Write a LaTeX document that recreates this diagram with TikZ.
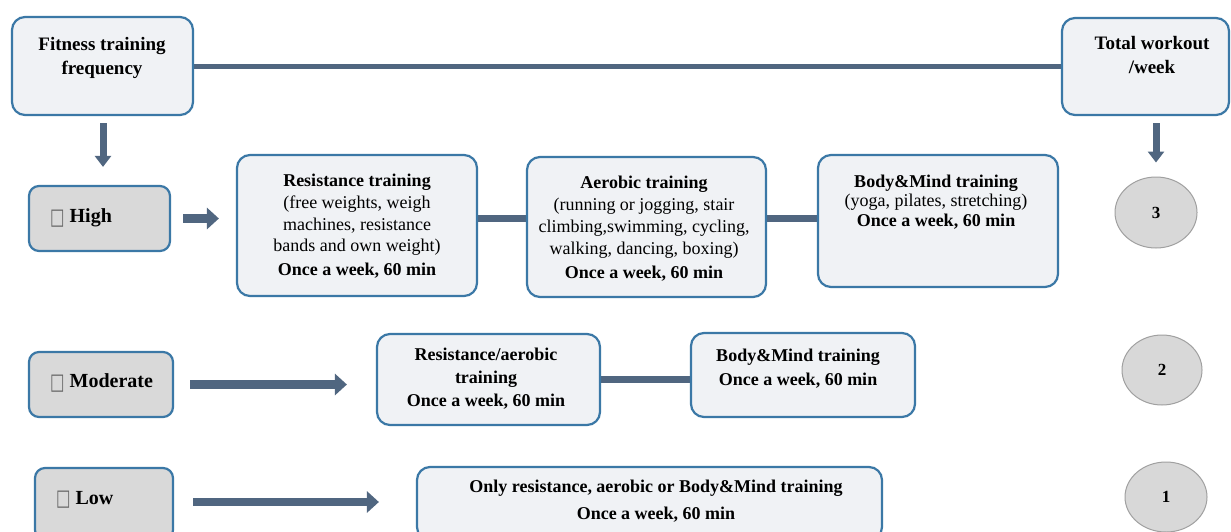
\documentclass[tikz,border=0pt]{standalone}
\usepackage{fontspec}
\setmainfont{Liberation Serif}
\newfontfamily\symfont{DejaVu Sans}
\usetikzlibrary{arrows.meta,calc,shapes.geometric}
\pgfdeclarelayer{bg}
\pgfsetlayers{bg,main}
\definecolor{boxblue}{HTML}{3B78A6}
\definecolor{boxfill}{HTML}{F0F2F5}
\definecolor{lvlfill}{HTML}{D9D9D9}
\definecolor{conn}{HTML}{506680}
\definecolor{circfill}{HTML}{D8D8D8}
\definecolor{circline}{HTML}{A0A0A0}
\newcommand{\tbox}{{\symfont\fontsize{18}{18}\selectfont\color{black!60}\raisebox{-1.5pt}{\scalebox{0.85}[1.25]{□}}}}
\tikzset{
  box/.style={draw=boxblue, line width=2.2pt, fill=boxfill, rounded corners=13pt, inner sep=0pt},
  lvl/.style={box, fill=lvlfill, rounded corners=10pt},
  circ/.style={ellipse, draw=circline, line width=1pt, fill=circfill, inner sep=0pt,
     font=\fontsize{17}{17}\selectfont\bfseries},
  link/.style={draw=conn, line width=6.5pt},
  toplink/.style={draw=conn, line width=5pt},
  arr/.style={draw=conn, line width=8.5pt, -{Triangle[width=21pt,length=12pt]}},
  darr/.style={draw=conn, line width=7pt, -{Triangle[width=16pt,length=11pt]}},
  hdr/.style={align=center, inner sep=0pt, font=\fontsize{19}{24}\selectfont\bfseries},
  lvltxt/.style={anchor=west, inner sep=0pt, font=\fontsize{20}{24}\selectfont\bfseries},
  body/.style={align=center, inner sep=0pt, font=\fontsize{18}{21.7}\selectfont},
}
\begin{document}
\begin{tikzpicture}[x=1pt,y=-1pt]
\clip (0,0) rectangle (1231,531);
\begin{pgfonlayer}{bg}
\fill[white] (0,0) rectangle (1231,531);
\end{pgfonlayer}

% header boxes
\node[box, minimum width=181pt, minimum height=98pt] (fit) at (102.5,66) {};
\node[hdr] (fitT) at (102,58) {Fitness training\\frequency};
\node[box, minimum width=167pt, minimum height=97pt] (tot) at (1145.5,66.5) {};
\node[hdr] (totT) at (1152,55) {Total workout\\/week};

% level boxes
\node[lvl, minimum width=141pt, minimum height=65pt] (high) at (99.5,218.5) {};
\node[lvltxt] (highT) at (50,218) {\tbox\ High};
\node[lvl, minimum width=144pt, minimum height=65pt] (mod) at (101,384.5) {};
\node[lvltxt] (modT) at (50,383) {\tbox\ Moderate};
\node[lvl, minimum width=138pt, minimum height=72pt] (low) at (104,504) {};
\node[lvltxt] (lowT) at (56,500) {\tbox\ Low};

% high row
\node[box, minimum width=240pt, minimum height=141pt] (res) at (357,225.5) {};
\node[body] (resT) at (357,226) {\textbf{Resistance training}\\(free weights, weigh\\machines, resistance\\bands and own weight)\\[1.5pt]\textbf{Once a week, 60 min}};
\node[box, minimum width=239pt, minimum height=140pt] (aer) at (646.5,227) {};
\node[body] (aerT) at (644,229) {\textbf{Aerobic training}\\(running or jogging, stair\\climbing,swimming, cycling,\\walking, dancing, boxing)\\[3pt]\textbf{Once a week, 60 min}};
\node[box, minimum width=240pt, minimum height=132pt] (bm) at (938,221) {};
\node[body, font=\fontsize{18}{19.5}\selectfont] (bmT) at (936,202) {\textbf{Body\&Mind training}\\(yoga, pilates, stretching)\\\textbf{Once a week, 60 min}};

% moderate row
\node[box, minimum width=223pt, minimum height=91pt] (ra) at (488.5,379.5) {};
\node[body, font=\fontsize{18}{23}\selectfont\bfseries] (raT) at (486,379) {Resistance/aerobic\\training\\Once a week, 60 min};
\node[box, minimum width=224pt, minimum height=84pt] (bm2) at (803,375) {};
\node[body, font=\fontsize{18}{24}\selectfont\bfseries] (bm2T) at (798,369) {Body\&Mind training\\Once a week, 60 min};

% low row
\node[box, minimum width=465pt, minimum height=73pt] (only) at (649.5,503.5) {};
\node[body, font=\fontsize{18}{27}\selectfont\bfseries] (onlyT) at (656,501) {Only resistance, aerobic or Body\&Mind training\\Once a week, 60 min};

% circles
\node[circ, minimum width=82pt, minimum height=71pt] (c3) at (1156,212.5) {3};
\node[circ, minimum width=80pt, minimum height=70pt] (c2) at (1162,370) {2};
\node[circ, minimum width=82pt, minimum height=70pt] (c1) at (1166,497) {1};

% connectors
\begin{pgfonlayer}{bg}
\draw[toplink] (fit.east) -- (fit.east -| tot.west);
\draw[link] (res.east |- high.east) -- (aer.west |- high.east);
\draw[link] (aer.east |- high.east) -- (bm.west |- high.east);
\draw[link] (ra.east) -- (ra.east -| bm2.west);
\end{pgfonlayer}
\draw[darr, shorten <=7pt, shorten >=18pt] ($(fit.south)+(0.5,0)$) -- ($(fit.south |- high.north)+(0.5,0)$);
\draw[darr, shorten <=7pt, shorten >=14pt] (c3.north |- tot.south) -- (c3.north);
\draw[arr, shorten <=12pt, shorten >=17pt] (high.east) -- (high.east -| res.west);
\draw[arr, shorten <=16pt, shorten >=29pt] (mod.east) -- (mod.east -| ra.west);
\draw[arr, shorten <=19pt, shorten >=37pt] ($(low.east)+(0,-2)$) -- ($(low.east -| only.west)+(0,-2)$);
\end{tikzpicture}
\end{document}
